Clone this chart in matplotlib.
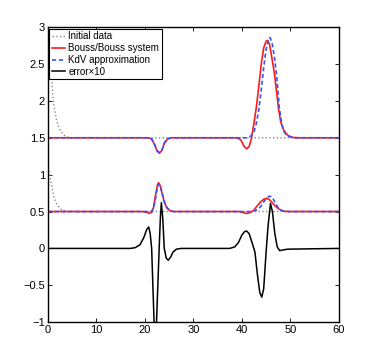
import matplotlib
matplotlib.use("Agg")
import matplotlib.pyplot as plt

# ===== Data =====
# Initial data (dotted grey), upper and lower groups
init_up_x = [0.0, 0.35, 0.7, 1.1, 1.8, 2.6, 3.6, 4.5, 60.0]
init_up_y = [2.75, 2.6, 2.36, 2.0, 1.73, 1.59, 1.52, 1.5, 1.5]
init_lo_x = [0.0, 0.2, 0.7, 1.24, 1.9, 2.9, 3.8, 60.0]
init_lo_y = [1.1, 1.06, 0.88, 0.70, 0.59, 0.52, 0.5, 0.5]

# Bouss/Bouss system (red), upper group
bouss_up_x = [0, 20.5, 21.3, 22.0, 22.5, 23.0, 23.5, 24.0, 24.6, 25.5,
              39.0, 39.8, 40.5, 41.0, 41.5, 42.0, 42.5, 43.0, 43.5, 44.0,
              44.5, 45.0, 45.3, 45.7, 46.2, 46.7, 47.2, 47.6, 48.0, 48.5,
              49.0, 49.5, 50.5, 51.5, 60]
bouss_up_y = [1.5, 1.5, 1.49, 1.41, 1.32, 1.29, 1.33, 1.42, 1.48, 1.5,
              1.5, 1.47, 1.38, 1.35, 1.38, 1.50, 1.70, 1.92, 2.20, 2.50,
              2.72, 2.81, 2.82, 2.77, 2.58, 2.38, 2.10, 1.88, 1.72, 1.62,
              1.57, 1.53, 1.505, 1.5, 1.5]

# KdV approximation (blue dashed), upper group
kdv_up_x = [0, 20.8, 21.5, 22.0, 22.5, 23.0, 23.5, 24.0, 24.6, 25.5,
            41.0, 41.8, 42.5, 43.0, 43.5, 44.0, 44.5, 45.0, 45.5, 45.8,
            46.2, 46.7, 47.2, 47.7, 48.2, 48.7, 49.3, 50.0, 51.0, 60]
kdv_up_y = [1.5, 1.5, 1.48, 1.41, 1.33, 1.30, 1.33, 1.43, 1.49, 1.5,
            1.5, 1.52, 1.58, 1.70, 1.88, 2.15, 2.45, 2.70, 2.84, 2.86,
            2.80, 2.60, 2.33, 1.92, 1.70, 1.58, 1.53, 1.51, 1.5, 1.5]

# Bouss/Bouss system, lower group
bouss_lo_x = [0, 19.5, 20.3, 20.9, 21.4, 21.8, 22.2, 22.6, 22.8, 23.1,
              23.5, 24.0, 24.5, 25.2, 26.0, 39.5, 40.3, 41.0, 41.7, 42.5,
              43.2, 44.0, 44.6, 45.1, 45.6, 46.2, 46.8, 47.5, 48.3, 49.0,
              50, 60]
bouss_lo_y = [0.5, 0.5, 0.49, 0.475, 0.49, 0.56, 0.72, 0.86, 0.89, 0.86,
              0.76, 0.63, 0.55, 0.51, 0.5, 0.5, 0.485, 0.474, 0.485, 0.52,
              0.58, 0.64, 0.67, 0.678, 0.665, 0.625, 0.58, 0.54, 0.51, 0.502,
              0.5, 0.5]

# KdV approximation, lower group
kdv_lo_x = [0, 20.5, 21.3, 21.8, 22.2, 22.6, 22.9, 23.2, 23.6, 24.1,
            24.6, 25.3, 26, 42.0, 43.0, 43.8, 44.5, 45.2, 45.8, 46.3,
            46.8, 47.4, 48.0, 48.8, 50, 60]
kdv_lo_y = [0.5, 0.5, 0.5, 0.54, 0.68, 0.84, 0.88, 0.85, 0.74, 0.62,
            0.55, 0.51, 0.5, 0.5, 0.52, 0.56, 0.63, 0.69, 0.71, 0.69,
            0.63, 0.56, 0.52, 0.503, 0.5, 0.5]

# error x 10 (black)
err_x = [0, 17.0, 18.0, 19.0, 19.8, 20.4, 20.8, 21.1, 21.4, 21.9,
         22.15, 22.4, 22.95, 23.2, 23.4, 23.7, 24.0, 24.4, 24.8, 25.3,
         25.8, 26.5, 27.5, 37.5, 38.5, 39.3, 40.0, 40.6, 41.0, 41.5,
         42.0, 42.7, 43.2, 43.7, 44.1, 44.5, 45.0, 45.4, 45.9, 46.3,
         46.8, 47.3, 47.8, 48.5, 49.5, 60]
err_y = [0, 0, 0.01, 0.05, 0.15, 0.26, 0.29, 0.2, 0.0, -1.0,
         -1.3, -1.0, 0.0, 0.42, 0.62, 0.4, 0.0, -0.13, -0.16, -0.12,
         -0.05, -0.01, 0, 0, 0.02, 0.08, 0.18, 0.23, 0.235, 0.2,
         0.1, -0.05, -0.35, -0.6, -0.66, -0.55, -0.05, 0.3, 0.61, 0.5,
         0.2, 0.02, -0.03, -0.02, -0.01, 0]

labels = ["Initial data", "Bouss/Bouss system", "KdV approximation", "error\u00d710"]
x_ticks = [0, 10, 20, 30, 40, 50, 60]
y_ticks = [-1, -0.5, 0, 0.5, 1, 1.5, 2, 2.5, 3]

# ===== Plot =====
plt.rcParams["font.family"] = ["Liberation Sans", "DejaVu Sans"]

fig = plt.figure(figsize=(3.74, 3.62), dpi=100)
ax = fig.add_axes([0.128, 0.110, 0.778, 0.815])

grey = "#888888"
red = "#ff1a1a"
blue = "#3355ff"
dash = (0, (2.5, 1.6))

ax.plot(init_up_x, init_up_y, ls=":", color=grey, lw=1.0, label=labels[0])
ax.plot(init_lo_x, init_lo_y, ls=":", color=grey, lw=1.0)
ax.plot(bouss_up_x, bouss_up_y, color=red, lw=1.2, label=labels[1])
ax.plot(bouss_lo_x, bouss_lo_y, color=red, lw=1.2)
ax.plot(kdv_up_x, kdv_up_y, ls=dash, color=blue, lw=1.2, label=labels[2])
ax.plot(kdv_lo_x, kdv_lo_y, ls=dash, color=blue, lw=1.2)
ax.plot(err_x, err_y, color="black", lw=1.1, label=labels[3])

ax.set_xlim(0, 60)
ax.set_ylim(-1, 3)
ax.set_xticks(x_ticks)
ax.set_yticks(y_ticks)
ax.set_xticklabels([str(t) for t in x_ticks])
ax.set_yticklabels(["\u22121", "\u22120.5", "0", "0.5", "1", "1.5", "2", "2.5", "3"])
ax.tick_params(direction="in", top=True, right=True, labelsize=8, length=3, width=0.6, pad=2)
for s in ax.spines.values():
    s.set_linewidth(1.0)

leg = ax.legend(loc="upper left", fontsize=7, handlelength=1.4, handletextpad=0.3,
                borderpad=0.25, labelspacing=0.2, borderaxespad=0.15, fancybox=False,
                framealpha=1, edgecolor="black")
leg.get_frame().set_linewidth(0.8)

fig.savefig("out.png", dpi=100)
